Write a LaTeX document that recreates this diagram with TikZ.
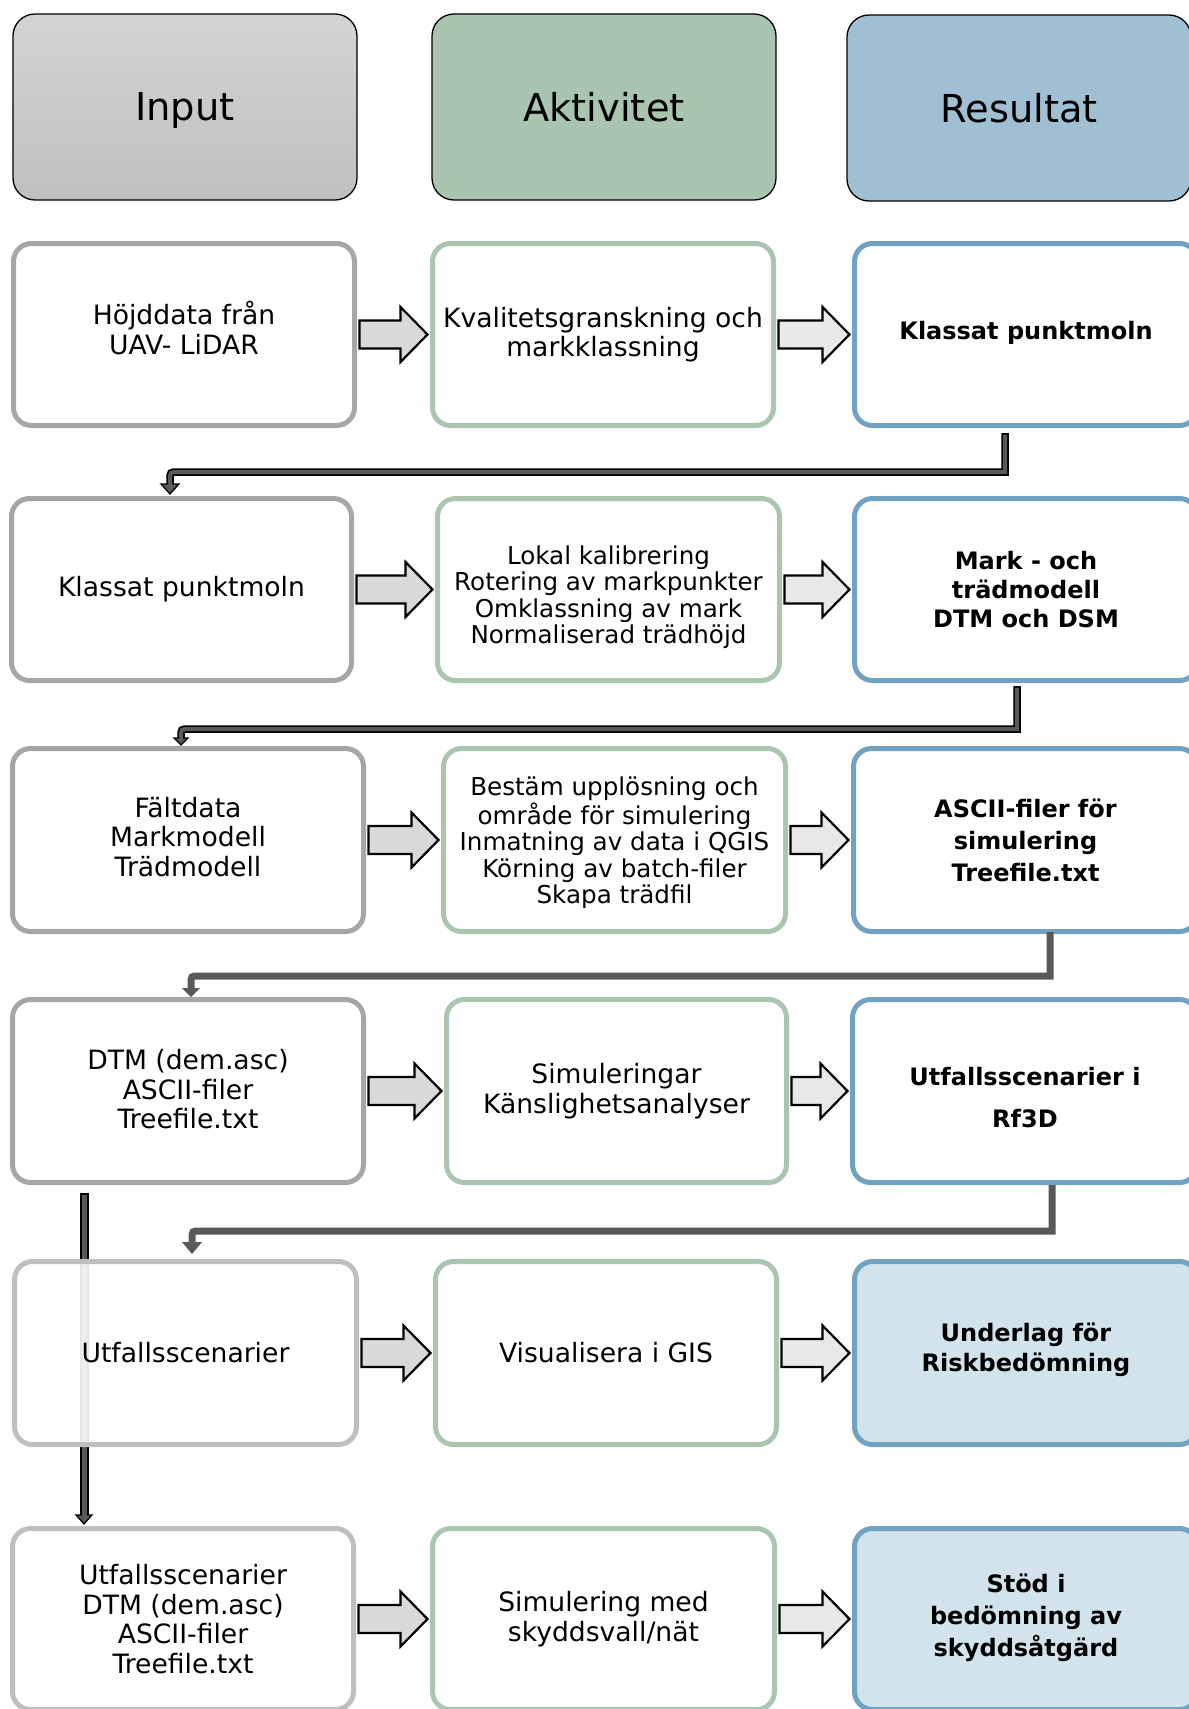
\documentclass[tikz,border=0pt]{standalone}
\usepackage{fontspec}
\setmainfont{DejaVu Sans}
\usetikzlibrary{calc}
\definecolor{ingray}{HTML}{A6A6A6}
\definecolor{inlight}{HTML}{BFBFBF}
\definecolor{actgreen}{HTML}{AAC6B1}
\definecolor{resblue}{HTML}{71A2C1}
\definecolor{hdgreen}{HTML}{A9C5B0}
\definecolor{hdblue}{HTML}{A0BFD3}
\definecolor{resfill}{HTML}{D3E3EC}
\definecolor{arrA}{HTML}{D9D9D9}
\definecolor{arrB}{HTML}{E8E8E8}
\definecolor{conng}{HTML}{595959}
\newcommand\fsn{\fontsize{13.3pt}{14.7pt}\selectfont}
\newcommand\fss{\fontsize{12.3pt}{13.2pt}\selectfont}
\newcommand\fsb{\fontsize{12pt}{14.7pt}\selectfont\bfseries}
\newcommand\fsh{\fontsize{19.2pt}{23pt}\selectfont}
\newcommand\shtxt[2]{\raisebox{#1}[\height][\depth]{\parbox{165pt}{\centering\noindent #2}}}
\tikzset{
 hdbox/.style={draw=black, line width=0.65pt, rounded corners=11pt, minimum width=172pt, minimum height=93pt, inner sep=0pt, font=\fsh},
 rowbox/.style={line width=2.5pt, rounded corners=9pt, fill=white, inner sep=0pt, align=center, font=\fsn},
 inbox/.style={rowbox, draw=ingray},
 inboxl/.style={rowbox, draw=inlight},
 actbox/.style={rowbox, draw=actgreen},
 resbox/.style={rowbox, draw=resblue, font=\fsb},
 blockarr/.style={draw=black, line width=1.1pt, line join=miter},
 conout/.style={draw=black, line width=3.75pt, line join=miter},
 conin/.style={draw=conng, line width=2pt, line join=miter},
 consolid/.style={draw=conng, line width=3.5pt, line join=miter},
 conhead/.style={fill=conng, draw=black, line width=0.6pt, line join=miter},
 conheads/.style={fill=conng},
}
\newcommand\barrow[3]{%
 \draw[blockarr, fill=#3] let \p1=([xshift=1.25pt]#1.east), \p2=([xshift=-1.25pt]#2.west) in
 (\x1,\y1+7pt) -- (\x2-13.5pt,\y1+7pt) -- (\x2-13.5pt,\y1+13.75pt) -- (\x2,\y1) -- (\x2-13.5pt,\y1-13.75pt) -- (\x2-13.5pt,\y1-7pt) -- (\x1,\y1-7pt) -- cycle;}
\begin{document}
\begin{tikzpicture}[x=0.5pt,y=-0.5pt]
\useasboundingbox (0,0) rectangle (1189,1709);
\clip (0,0) rectangle (1189,1709);
% headers
\node[hdbox, top color=black!17, bottom color=black!25] (hin) at (185,107) {\shtxt{-1.6pt}{Input}};
\node[hdbox, fill=hdgreen] (hact) at (604,107) {Aktivitet};
\node[hdbox, fill=hdblue] (hres) at (1019,108) {Resultat};
% vertical connector behind row 5
\coordinate (c5s) at (84,1193);
\coordinate (c5t) at (84,1516);
\draw[conout, line width=4.5pt] (c5s) -- (c5t);
\fill[conhead] (76,1515) -- (92,1515) -- (84,1524) -- cycle;
\draw[conin, line width=2.5pt] (84,1195) -- (84,1517);
% row 1
\node[inbox, minimum width=170.5pt, minimum height=91pt] (r1a) at (184,334.5) {\shtxt{3.25pt}{Höjddata från\\UAV- LiDAR}};
\node[actbox, minimum width=170.5pt, minimum height=91pt] (r1b) at (603,334.5) {Kvalitetsgranskning och\\markklassning};
\node[resbox, minimum width=171.5pt, minimum height=91pt] (r1c) at (1026,334.5) {\shtxt{1pt}{Klassat punktmoln}};
% row 2
\node[inbox, minimum width=170pt, minimum height=91pt] (r2a) at (181.5,589.5) {Klassat punktmoln};
\node[actbox, font=\fss, minimum width=171pt, minimum height=91pt] (r2b) at (608.5,589.5) {\shtxt{-3.8pt}{Lokal kalibrering\\Rotering av markpunkter\\Omklassning av mark\\Normaliserad trädhöjd}};
\node[resbox, minimum width=171.5pt, minimum height=91pt] (r2c) at (1026,589.5) {Mark - och\\trädmodell\\DTM och DSM};
% row 3
\node[inbox, minimum width=175.5pt, minimum height=91.5pt] (r3a) at (188,840) {\shtxt{1.6pt}{Fältdata\\Markmodell\\Trädmodell}};
\node[actbox, font=\fss, minimum width=171pt, minimum height=91.5pt] (r3b) at (614.5,840) {\shtxt{-1.5pt}{Bestäm upplösning och\\område för simulering\\Inmatning av data i QGIS\\Körning av batch-filer\\Skapa trädfil}};
\node[resbox, font={\fontsize{12pt}{16pt}\selectfont\bfseries}, minimum width=172pt, minimum height=91.5pt] (r3c) at (1025.5,840) {ASCII-filer för\\simulering\\Treefile.txt};
% row 4
\node[inbox, minimum width=175.5pt, minimum height=91.5pt] (r4a) at (188,1091) {\shtxt{0.8pt}{DTM (dem.asc)\\ASCII-filer\\Treefile.txt}};
\node[actbox, minimum width=170pt, minimum height=91.5pt] (r4b) at (616.5,1091) {Simuleringar\\Känslighetsanalyser};
\node[resbox, font={\fontsize{12pt}{21.3pt}\selectfont\bfseries}, minimum width=172.5pt, minimum height=91.5pt] (r4c) at (1025,1091) {\shtxt{-3.25pt}{Utfallsscenarier i\\Rf3D}};
% row 5
\node[inboxl, fill opacity=0.9, text opacity=1, minimum width=171pt, minimum height=91.5pt] (r5a) at (185.5,1353) {Utfallsscenarier};
\node[actbox, minimum width=170.5pt, minimum height=91.5pt] (r5b) at (606,1353) {Visualisera i GIS};
\node[resbox, fill=resfill, minimum width=171.5pt, minimum height=91.5pt] (r5c) at (1026,1353) {\shtxt{1.6pt}{Underlag för\\Riskbedömning}};
% row 6
\node[inboxl, minimum width=170.5pt, minimum height=90.5pt] (r6a) at (183,1619) {Utfallsscenarier\\DTM (dem.asc)\\ASCII-filer\\Treefile.txt};
\node[actbox, minimum width=171pt, minimum height=90.5pt] (r6b) at (603.5,1619) {Simulering med\\skyddsvall/nät};
\node[resbox, fill=resfill, font={\fontsize{12pt}{16pt}\selectfont\bfseries}, minimum width=171.5pt, minimum height=90.5pt] (r6c) at (1026,1619) {\shtxt{0.5pt}{Stöd i\\bedömning av\\skyddsåtgärd}};
% block arrows
\barrow{r1a}{r1b}{arrA}\barrow{r1b}{r1c}{arrB}
\barrow{r2a}{r2b}{arrA}\barrow{r2b}{r2c}{arrB}
\barrow{r3a}{r3b}{arrA}\barrow{r3b}{r3c}{arrB}
\barrow{r4a}{r4b}{arrA}\barrow{r4b}{r4c}{arrB}
\barrow{r5a}{r5b}{arrA}\barrow{r5b}{r5c}{arrB}
\barrow{r6a}{r6b}{arrA}\barrow{r6b}{r6c}{arrB}
% connector 1
\coordinate (c1s) at (1005,433);
\coordinate (c1t) at (170,485);
\draw[conout] (c1s) -- (1005,472) -- (178,472) .. controls (170,472) .. (170,480) -- (c1t);
\fill[conhead] (161,484) -- (179,484) -- (170,494) -- cycle;
\draw[conin] (1005,434.75) -- (1005,472) -- (178,472) .. controls (170,472) .. (170,480) -- (170,486);
% connector 2
\coordinate (c2s) at (1017,686);
\coordinate (c2t) at (181,739);
\draw[conout] (c2s) -- (1017,729) -- (189,729) .. controls (181,729) .. (181,737) -- (c2t);
\fill[conhead] (174,738) -- (188,738) -- (181,745) -- cycle;
\draw[conin] (1017,687.75) -- (1017,729) -- (189,729) .. controls (181,729) .. (181,737) -- (181,739.5);
% connector 3
\coordinate (c3s) at (1050,932);
\coordinate (c3t) at (191,989);
\draw[consolid] (c3s) -- (1050,976) -- (199,976) .. controls (191,976) .. (191,984) -- (c3t);
\fill[conheads] (182,988) -- (200,988) -- (191,997) -- cycle;
% connector 4
\coordinate (c4s) at (1052,1185);
\coordinate (c4t) at (192,1243);
\draw[consolid] (c4s) -- (1052,1231) -- (200,1231) .. controls (192,1231) .. (192,1239) -- (c4t);
\fill[conheads] (182,1242) -- (202,1242) -- (192,1254) -- cycle;
\end{tikzpicture}
\end{document}
